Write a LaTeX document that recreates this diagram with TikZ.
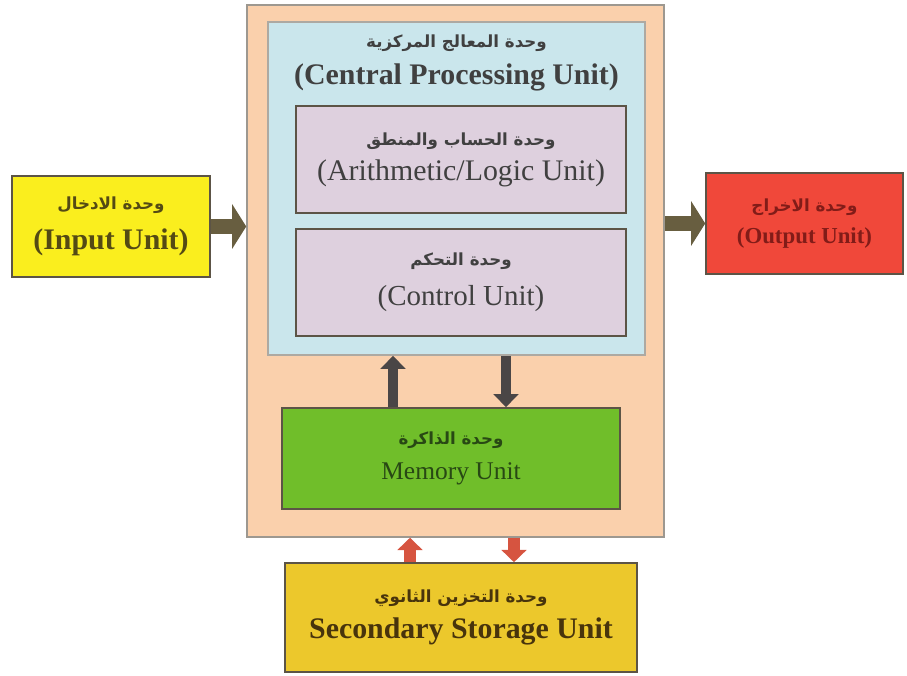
\documentclass[tikz,border=0pt]{standalone}
\usepackage{fontspec}
\setmainfont{Liberation Serif}
\newfontfamily\arabicfont[Script=Arabic]{DejaVu Sans}
\TeXXeTstate=1
\usetikzlibrary{arrows.meta,positioning}

\definecolor{peach}{RGB}{250,208,172}
\definecolor{cpublue}{RGB}{202,230,236}
\definecolor{lavender}{RGB}{222,208,222}
\definecolor{inyellow}{RGB}{250,238,30}
\definecolor{outred}{RGB}{240,72,58}
\definecolor{memgreen}{RGB}{112,190,42}
\definecolor{storegold}{RGB}{236,200,44}
\definecolor{olivearrow}{RGB}{104,94,64}
\definecolor{darkarrow}{RGB}{74,70,70}
\definecolor{redarrow}{RGB}{214,84,64}
\definecolor{boxline}{RGB}{92,84,70}

\newcommand{\ar}[1]{{\arabicfont\bfseries\fontsize{9.5}{12}\selectfont\beginR #1\endR}}

\tikzset{
  unitbox/.style = {rectangle, draw=boxline, line width=0.9pt, align=center,
                    inner sep=0pt, font=\fontsize{17}{20}\selectfont},
  sidearrow/.style = {olivearrow, line width=8.5pt,
                      -{Triangle[width=25pt,length=8pt]}},
  memarrow/.style  = {darkarrow, line width=6.2pt,
                      -{Triangle[width=14pt,length=7.5pt]}},
  storearrow/.style = {redarrow, line width=6.5pt,
                      -{Triangle[width=14pt,length=7pt]}}
}

\begin{document}
\begin{tikzpicture}[x=0.02cm,y=-0.02cm]
  \useasboundingbox (0,0) rectangle (907,676);

  % computer frame and cpu
  \node[unitbox, fill=peach, draw=boxline!60, minimum width=8.34cm, minimum height=10.64cm]
    (outer) at (455.5,271) {};
  \node[unitbox, fill=cpublue, draw=boxline!50, minimum width=7.54cm, minimum height=6.66cm]
    (cpu) at (456.5,188.5) {};
  \node[align=center, text=black!75, font=\fontsize{17}{20}\selectfont\bfseries]
    (cputitle) at (456.5,63) {\ar{وحدة المعالج المركزية}\\[1pt](Central Processing Unit)};

  \node[unitbox, fill=lavender, text=black!75, minimum width=6.6cm, minimum height=2.14cm]
    (alu) at (461,159.5) {\ar{وحدة الحساب والمنطق}\\[0pt](Arithmetic/Logic Unit)};
  \node[unitbox, fill=lavender, text=black!75, minimum width=6.6cm, minimum height=2.14cm,
        font=\fontsize{16.5}{20}\selectfont]
    (cu) at (461,282.5) {\ar{وحدة التحكم}\\[3pt](Control Unit)};

  \node[unitbox, fill=memgreen, text={rgb,255:red,40;green,72;blue,20}, minimum width=6.76cm, minimum height=2.02cm,
        font=\fontsize{14.5}{18}\selectfont]
    (memory) at (451,458.5) {\ar{وحدة الذاكرة}\\[2pt]Memory Unit};

  % units outside the frame
  \node[unitbox, fill=inyellow, text={rgb,255:red,84;green,74;blue,20}, minimum width=3.96cm, minimum height=2.02cm]
    (input) at (111,226.5) {\ar{وحدة الادخال}\\[3pt]\bfseries(Input Unit)};
  \node[unitbox, fill=outred, text={rgb,255:red,130;green,28;blue,24}, minimum width=3.94cm, minimum height=2.02cm,
        font=\fontsize{13}{16}\selectfont]
    (output) at (804.5,223.5) {\ar{وحدة الاخراج}\\[2pt]\bfseries(Output Unit)};
  \node[unitbox, fill=storegold, text={rgb,255:red,72;green,52;blue,12}, minimum width=7.04cm, minimum height=2.18cm]
    (storage) at (461,617.5) {\ar{وحدة التخزين الثانوي}\\[1pt]\bfseries Secondary Storage Unit};

  % data flow
  \draw[sidearrow] (input) -- (outer.west |- input);
  \draw[sidearrow] (outer.east |- output) -- (output);
  \draw[memarrow] ([xshift=-1.16cm]memory.north) -- ([xshift=-1.16cm]memory.north |- cpu.south);
  \draw[memarrow] ([xshift=1.1cm]memory.north |- cpu.south) -- ([xshift=1.1cm]memory.north);
  \draw[storearrow] ([xshift=-1.02cm]storage.north) -- ([xshift=-1.02cm]storage.north |- outer.south);
  \draw[storearrow] ([xshift=1.06cm]storage.north |- outer.south) -- ([xshift=1.06cm]storage.north);
\end{tikzpicture}
\end{document}
